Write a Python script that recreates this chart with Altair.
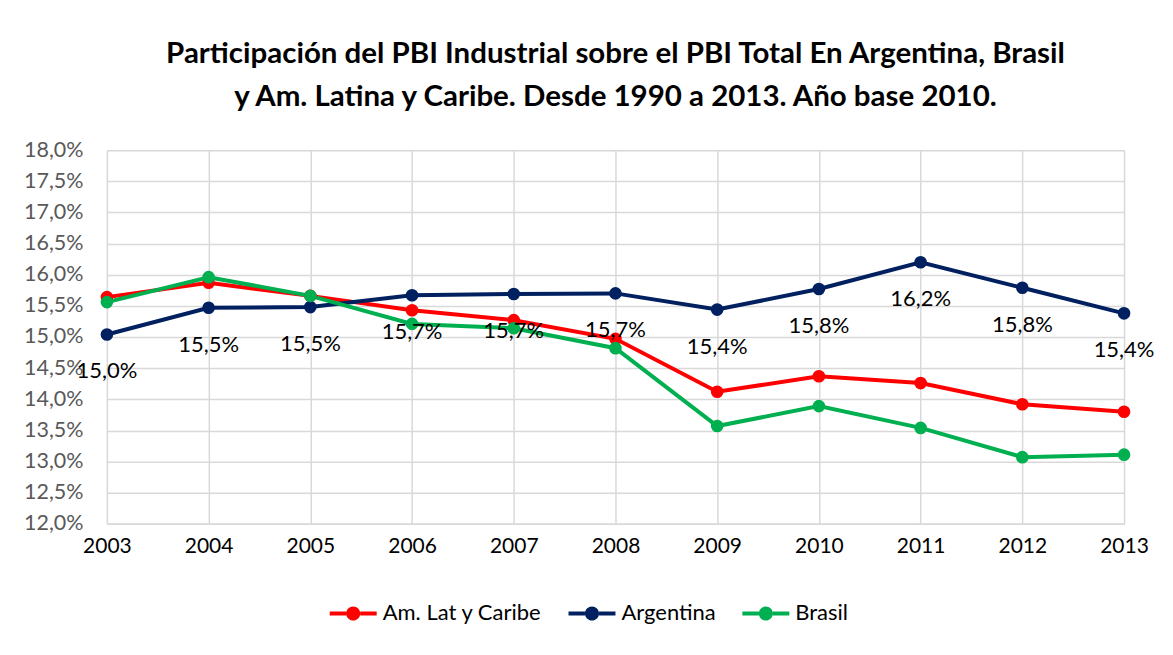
import altair as alt
import pandas as pd

years = list(range(2003, 2014))
am_lat = [15.64, 15.87, 15.66, 15.43, 15.27, 14.97, 14.12, 14.37, 14.26, 13.92, 13.80]
argentina = [15.04, 15.47, 15.48, 15.67, 15.69, 15.70, 15.44, 15.77, 16.20, 15.79, 15.38]
brasil = [15.56, 15.96, 15.66, 15.21, 15.14, 14.82, 13.57, 13.89, 13.54, 13.07, 13.11]
series_names = ["Am. Lat y Caribe", "Argentina", "Brasil"]
series_colors = ["#FF0000", "#002060", "#00B050"]
title_lines = [
    "Participación del PBI Industrial sobre el PBI Total En Argentina, Brasil",
    "y Am. Latina y Caribe. Desde 1990 a 2013. Año base 2010.",
]

rows = []
for name, vals in zip(series_names, [am_lat, argentina, brasil]):
    for yr, v in zip(years, vals):
        rows.append({"year": yr, "value": v, "serie": name})
df = pd.DataFrame(rows)

FONT = "Lato"
sym_path = ("M-1,-0.085 L-0.3,-0.085 L-0.3,0.085 L-1,0.085 Z "
            "M0.3,-0.085 L1,-0.085 L1,0.085 L0.3,0.085 Z "
            "M-0.3,0 A0.3,0.3 0 1,1 0.3,0 A0.3,0.3 0 1,1 -0.3,0 Z")

color = alt.Color(
    "serie:N",
    scale=alt.Scale(domain=series_names, range=series_colors),
    legend=alt.Legend(
        title=None, orient="none", direction="horizontal",
        legendX=223, legendY=440,
        symbolType=sym_path, symbolSize=2209, symbolStrokeWidth=0,
        labelFontSize=22, labelFont=FONT, labelColor="#000000",
        labelOffset=6, columnPadding=26, padding=0,
    ),
)

x = alt.X(
    "year:Q",
    scale=alt.Scale(domain=[2003, 2013], nice=False, zero=False),
    axis=alt.Axis(
        title=None, values=years, format="d", grid=True, gridColor="#d9d9d9",
        gridWidth=1.5, ticks=False, domain=True, domainColor="#d9d9d9",
        domainWidth=1.5, labelFontSize=21, labelFont=FONT, labelColor="#000000",
        labelPadding=12, labelFlush=False,
    ),
)
y = alt.Y(
    "value:Q",
    scale=alt.Scale(domain=[12, 18], nice=False, zero=False),
    axis=alt.Axis(
        title=None, values=[12 + 0.5 * i for i in range(13)],
        labelExpr="replace(format(datum.value, '.1f'), '.', ',') + '%'",
        grid=True, gridColor="#d9d9d9", gridWidth=1.5, ticks=False, domain=False,
        labelFontSize=21.5, labelFont=FONT, labelColor="#595959",
        labelPadding=24, minExtent=99, maxExtent=99,
    ),
)

base = alt.Chart(df)
lines = base.mark_line(strokeWidth=4).encode(x=x, y=y, color=color)
points = base.mark_point(filled=True, size=160, opacity=1).encode(x=x, y=y, color=color)
labels = (
    alt.Chart(df[df["serie"] == "Argentina"])
    .transform_calculate(label="replace(format(datum.value, '.1f'), '.', ',') + '%'")
    .mark_text(dy=37, fontSize=22, font=FONT, color="#000000")
    .encode(x=x, y=y, text="label:N")
)

chart = (
    alt.layer(lines, points, labels)
    .properties(
        width=1018, height=374,
        padding={"left": 0, "top": 30, "right": 10, "bottom": 0},
        title=alt.TitleParams(
            text=title_lines, fontSize=29.5, font=FONT, fontWeight="bold",
            color="#000000", lineHeight=43, anchor="middle", offset=27,
        ),
    )
    .configure_view(stroke="#d9d9d9", strokeWidth=1.5)
    .configure(background="white")
)

chart.save("out.html", embed_options={"renderer": "svg", "actions": False})
